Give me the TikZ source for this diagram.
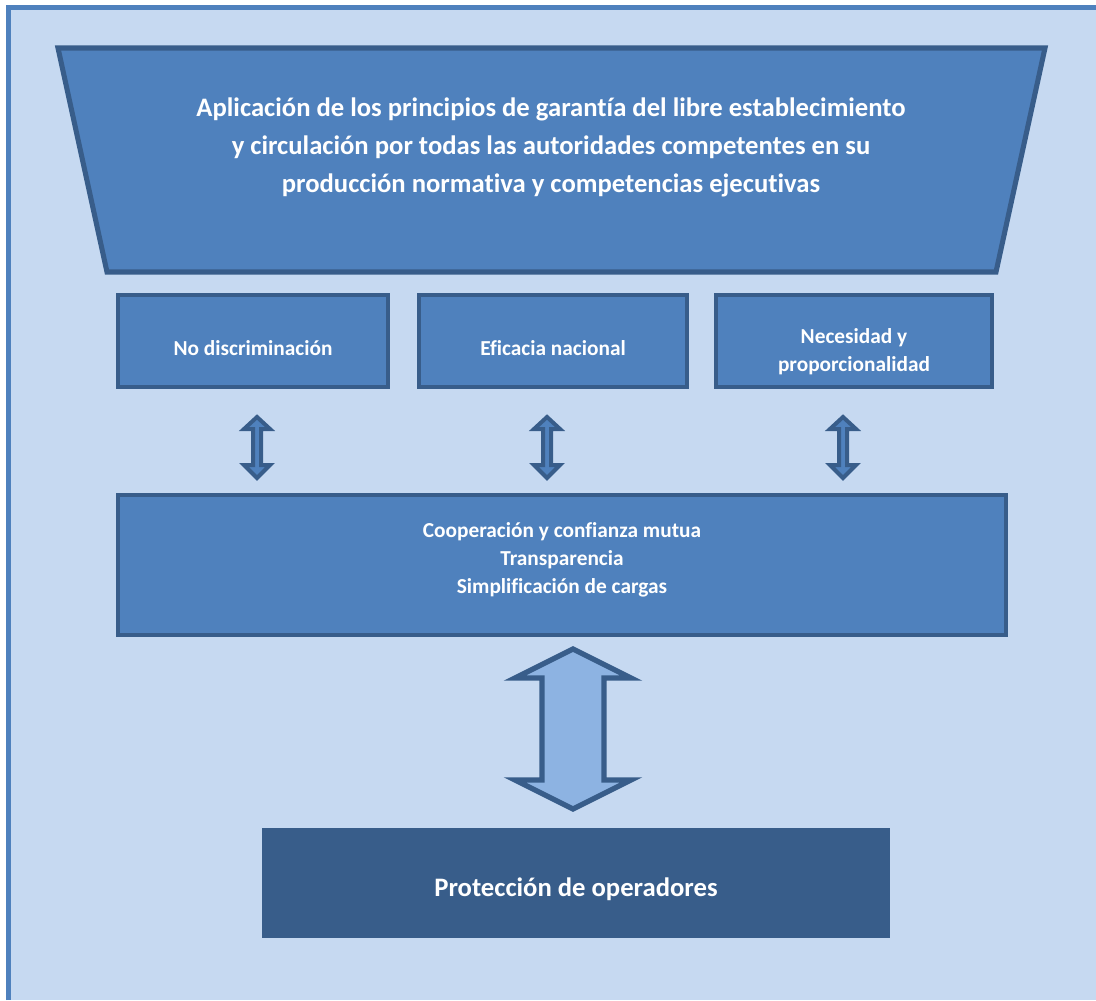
\documentclass[tikz,border=0pt]{standalone}
\usepackage{fontspec}
\setmainfont[Ligatures=NoCommon]{Carlito}
\definecolor{lightbg}{HTML}{C6D9F1}
\definecolor{midblue}{HTML}{4F81BD}
\definecolor{darkblue}{HTML}{385D8A}
\definecolor{arrowfill}{HTML}{8DB3E2}
\tikzset{
  box/.style={draw=darkblue, line width=3.5pt, fill=midblue, inner sep=0pt},
  boxtext/.style={text=white, font=\bfseries\fontsize{16}{21}\selectfont, align=center, inner sep=0pt},
  smallarrow/.style={draw=darkblue, line width=3pt, fill=midblue, line join=miter},
  bigarrow/.style={draw=darkblue, line width=4pt, fill=arrowfill, line join=miter},
}
\begin{document}
\begin{tikzpicture}[x=0.75pt,y=-0.75pt]
\useasboundingbox (0,0) rectangle (1096,1000);
% outer frame
\fill[lightbg] (8.5,7.5) rectangle (1096,1000);
\draw[draw=midblue, line width=3.8pt] (8.5,1000) -- (8.5,7.5) -- (1096,7.5);
% top trapezoid
\draw[draw=darkblue, line width=3.8pt, fill=midblue, line join=miter]
  (58,48) coordinate (t1) -- (1045,48) coordinate (t2) -- (996,272) coordinate (t3) -- (107,272) coordinate (t4) -- cycle;
\node[text=white, font=\bfseries\fontsize{20}{28.5}\selectfont, align=center] (title) at (551,147)
  {Aplicación de los principios de garantía del libre establecimiento\\y circulación por todas las autoridades competentes en su\\producción normativa y competencias ejecutivas};
% three boxes
\node[box, minimum width=270*0.75pt, minimum height=92*0.75pt] (b1) at (253,341) {};
\node[box, minimum width=268*0.75pt, minimum height=92*0.75pt] (b2) at (553,341) {};
\node[box, minimum width=276*0.75pt, minimum height=92*0.75pt] (b3) at (854,341) {};
\node[boxtext] (b1t) at (253,348) {No discriminación};
\node[boxtext] (b2t) at (553,348) {Eficacia nacional};
\node[boxtext] (b3t) at (854,352) {Necesidad y\\proporcionalidad};
% small arrows
\foreach \cx/\nm in {257/a1,547/a2,843/a3}{
  \draw[smallarrow] (\cx,417) -- (\cx+13,429) -- (\cx+4,429) -- (\cx+4,465) -- (\cx+13,465) -- (\cx,478) -- (\cx-13,465) -- (\cx-4,465) -- (\cx-4,429) -- (\cx-13,429) -- cycle;
  \coordinate (\nm) at (\cx,447);
}
% middle box
\node[box, minimum width=888*0.75pt, minimum height=140*0.75pt] (mid) at (562,565) {};
\node[boxtext] (midtext) at (562,560)
  {Cooperación y confianza mutua\\Transparencia\\Simplificación de cargas};
% big arrow
\draw[bigarrow] (573,649) -- (631,678) -- (604,678) -- (604,780) -- (631,780) -- (573,809) -- (515,780) -- (542,780) -- (542,678) -- (515,678) -- cycle;
% bottom box
\node[fill=darkblue, minimum width=628*0.75pt, minimum height=110*0.75pt, inner sep=0pt] (prot) at (576,883) {};
\node[text=white, font=\bfseries\fontsize{20}{24}\selectfont, inner sep=0pt] (prott) at (576,889) {Protección de operadores};
\end{tikzpicture}
\end{document}
